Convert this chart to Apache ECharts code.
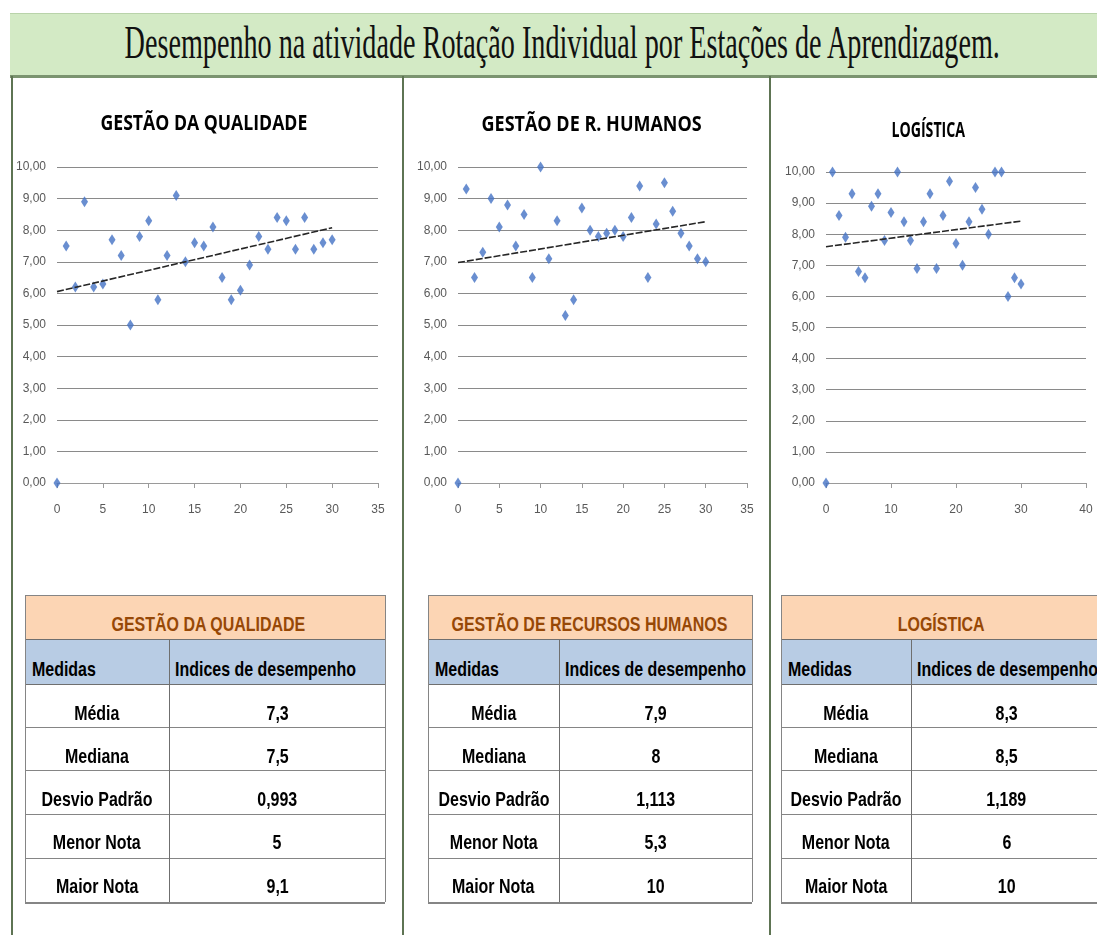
<!DOCTYPE html>
<html lang="pt-BR">
<head>
<meta charset="utf-8">
<title>Desempenho na atividade Rotação Individual</title>
<script src="https://cdn.jsdelivr.net/npm/echarts@6.0.0/dist/echarts.min.js"></script>
<style>
  html, body { margin: 0; padding: 0; background: #fff; }
  body { position: relative; width: 1097px; height: 935px; overflow: hidden; }
  #chart { position: absolute; left: 0; top: 0; width: 1097px; height: 935px; }
  .band { position: absolute; left: 10px; top: 13px; width: 1087px; height: 61px; background: #d3eac5; border-top: 1px solid #b9d3aa; border-bottom: 3px solid #7b9470; }
  .vline { position: absolute; top: 76px; bottom: 0; width: 2px; background: #5e7453; }
  .txt { position: absolute; white-space: nowrap; line-height: 1; }
  .box { position: absolute; box-sizing: border-box; }
  .hl { position: absolute; height: 1px; background: #858585; }
  .vl { position: absolute; width: 1px; background: #858585; }
</style>
</head>
<body>
<div id="chart"></div>
<div class="band"></div>
<div class="vline" style="left:11px"></div>
<div class="vline" style="left:402px"></div>
<div class="vline" style="left:769px"></div>

<script>
  // alunos (eixo x) e notas de cada estacao
  const alunos = [0, 1, 2, 3, 4, 5, 6, 7, 8, 9, 10, 11, 12, 13, 14, 15, 16, 17, 18, 19, 20, 21, 22, 23, 24, 25, 26, 27, 28, 29, 30];
  const notasQualidade = [0, 7.5, 6.2, 8.9, 6.2, 6.3, 7.7, 7.2, 5.0, 7.8, 8.3, 5.8, 7.2, 9.1, 7.0, 7.6, 7.5, 8.1, 6.5, 5.8, 6.1, 6.9, 7.8, 7.4, 8.4, 8.3, 7.4, 8.4, 7.4, 7.6, 7.7];
  const notasRH = [0, 9.3, 6.5, 7.3, 9.0, 8.1, 8.8, 7.5, 8.5, 6.5, 10, 7.1, 8.3, 5.3, 5.8, 8.7, 8.0, 7.8, 7.9, 8.0, 7.8, 8.4, 9.4, 6.5, 8.2, 9.5, 8.6, 7.9, 7.5, 7.1, 7.0];
  const notasLogistica = [0, 10, 8.6, 7.9, 9.3, 6.8, 6.6, 8.9, 9.3, 7.8, 8.7, 10, 8.4, 7.8, 6.9, 8.4, 9.3, 6.9, 8.6, 9.7, 7.7, 7.0, 8.4, 9.5, 8.8, 8.0, 10, 10, 6.0, 6.6, 6.4];

  // tabelas
  const medidas = ['Média', 'Mediana', 'Desvio Padrão', 'Menor Nota', 'Maior Nota'];
  const indicesQualidade = ['7,3', '7,5', '0,993', '5', '9,1'];
  const indicesRH = ['7,9', '8', '1,113', '5,3', '10'];
  const indicesLogistica = ['8,3', '8,5', '1,189', '6', '10'];

  const titulo = 'Desempenho na atividade Rotação Individual por Estações de Aprendizagem.';
  const titulosGraficos = ['GESTÃO DA QUALIDADE', 'GESTÃO DE R. HUMANOS', 'LOGÍSTICA'];
  const titulosTabelas = ['GESTÃO DA QUALIDADE', 'GESTÃO DE RECURSOS HUMANOS', 'LOGÍSTICA'];

  // texto posicionado e comprimido na horizontal
  function texto(str, x, cy, font, opts) {
    opts = opts || {};
    const el = document.createElement('span');
    el.className = 'txt';
    el.textContent = str;
    el.style.font = font;
    el.style.color = opts.color || '#000';
    document.body.appendChild(el);
    const w = el.offsetWidth, h = el.offsetHeight;
    const s = opts.width ? opts.width / w : (opts.scale || 1);
    if (opts.left) {
      el.style.left = x + 'px';
      el.style.transformOrigin = '0 50%';
    } else {
      el.style.left = (x - w / 2) + 'px';
      el.style.transformOrigin = '50% 50%';
    }
    el.style.top = (cy - h / 2) + 'px';
    el.style.transform = 'scaleX(' + s + ')';
    return w;
  }

  function caixa(cls, l, t, w, h, bg) {
    const d = document.createElement('div');
    d.className = cls;
    d.style.left = l + 'px';
    d.style.top = t + 'px';
    if (w != null) d.style.width = w + 'px';
    if (h != null) d.style.height = h + 'px';
    if (bg) d.style.background = bg;
    document.body.appendChild(d);
  }

  texto(titulo, 562, 42, '47px "Liberation Serif", "DejaVu Serif", serif', { width: 875, color: '#111' });

  const fonteTit = 'bold 22px "Open Sans", "Liberation Sans", sans-serif';
  texto(titulosGraficos[0], 204, 121, fonteTit, { width: 207 });
  texto(titulosGraficos[1], 591, 122, fonteTit, { width: 220 });
  texto(titulosGraficos[2], 928, 128, fonteTit, { width: 74 });

  // tabelas
  const fonteTab = 'bold 21px "Liberation Sans Narrow", "Liberation Sans", sans-serif';
  const probe = document.createElement('span');
  probe.className = 'txt';
  probe.style.font = fonteTab;
  probe.textContent = 'Desvio Padrão';
  document.body.appendChild(probe);
  const escTab = 111 / probe.offsetWidth;
  probe.remove();

  const linhas = [595, 639, 684, 727, 770, 814, 858, 902];
  const centrosTxt = [712.5, 755.8, 799.1, 842.4, 885.7];

  function tabela(left, split, right, tit, valores, titCx) {
    const w = right - left;
    caixa('box', left, linhas[0], w, linhas[1] - linhas[0], '#fcd5b4');
    caixa('box', left, linhas[1], w, linhas[2] - linhas[1], '#b8cce4');
    linhas.forEach(function (y, i) {
      caixa('hl', left, y, w, i === linhas.length - 1 ? 2 : 1, i === 1 || i === 2 ? '#6f6f6f' : null);
    });
    caixa('vl', left, linhas[0], 1, linhas[7] - linhas[0]);
    caixa('vl', right, linhas[0], 1, linhas[7] - linhas[0]);
    caixa('vl', split, linhas[1], 1, linhas[7] - linhas[1], '#6f6f6f');

    texto(tit, titCx, 624, fonteTab, { scale: escTab, color: '#974806' });
    texto('Medidas', left + 7, 669, fonteTab, { scale: escTab, left: true });
    texto('Indices de desempenho', split + 6, 669, fonteTab, { scale: escTab, left: true });
    medidas.forEach(function (m, i) {
      texto(m, (left + split) / 2, centrosTxt[i], fonteTab, { scale: escTab });
      texto(valores[i], (split + right) / 2, centrosTxt[i], fonteTab, { scale: escTab });
    });
  }

  tabela(25, 169, 385, titulosTabelas[0], indicesQualidade, 208);
  tabela(428, 559, 752, titulosTabelas[1], indicesRH, 589);
  tabela(781, 911, 1102, titulosTabelas[2], indicesLogistica, 941);

  // linha de tendencia (minimos quadrados)
  function tendencia(xs, ys) {
    const n = xs.length;
    let sx = 0, sy = 0, sxy = 0, sxx = 0;
    for (let i = 0; i < n; i++) {
      sx += xs[i]; sy += ys[i]; sxy += xs[i] * ys[i]; sxx += xs[i] * xs[i];
    }
    const b = (n * sxy - sx * sy) / (n * sxx - sx * sx);
    const a = (sy - b * sx) / n;
    const x0 = xs[0], x1 = xs[n - 1];
    return [[x0, a + b * x0], [x1, a + b * x1]];
  }

  const grids = [
    { left: 57, top: 167, width: 321, height: 316 },
    { left: 458, top: 167, width: 289, height: 316 },
    { left: 826, top: 172, width: 260, height: 311 }
  ];
  const eixoX = [[35, 5], [35, 5], [40, 10]];
  const notas = [notasQualidade, notasRH, notasLogistica];

  const labelFont = { fontFamily: '"Liberation Sans Narrow", "Liberation Sans", sans-serif', fontSize: 12, color: '#595959' };

  const option = {
    animation: false,
    grid: grids,
    xAxis: grids.map(function (g, i) {
      return {
        type: 'value', gridIndex: i, min: 0, max: eixoX[i][0], interval: eixoX[i][1],
        axisLine: { show: true, onZero: false, lineStyle: { color: '#9a9a9a', width: 1 } },
        axisTick: { show: true, length: 5, lineStyle: { color: '#9a9a9a' } },
        axisLabel: Object.assign({ margin: 21 }, labelFont),
        splitLine: { show: false }
      };
    }),
    yAxis: grids.map(function (g, i) {
      return {
        type: 'value', gridIndex: i, min: 0, max: 10, interval: 1,
        axisLine: { show: false },
        axisTick: { show: false },
        axisLabel: Object.assign({
          margin: 11,
          formatter: function (v) { return v.toFixed(2).replace('.', ','); }
        }, labelFont),
        splitLine: { show: true, lineStyle: { color: '#8a8a8a', width: 1 } }
      };
    }),
    series: []
  };

  notas.forEach(function (ys, i) {
    option.series.push({
      type: 'scatter', xAxisIndex: i, yAxisIndex: i,
      symbol: 'diamond', symbolSize: [7, 11],
      itemStyle: { color: '#4472c4' },
      data: alunos.map(function (x, k) { return [x, ys[k]]; })
    });
    option.series.push({
      type: 'line', xAxisIndex: i, yAxisIndex: i,
      symbol: 'none', silent: true,
      lineStyle: { color: '#262626', width: 1.6, type: [7, 2] },
      data: tendencia(alunos, ys)
    });
  });

  echarts.init(document.getElementById('chart')).setOption(option);
</script>
</body>
</html>
